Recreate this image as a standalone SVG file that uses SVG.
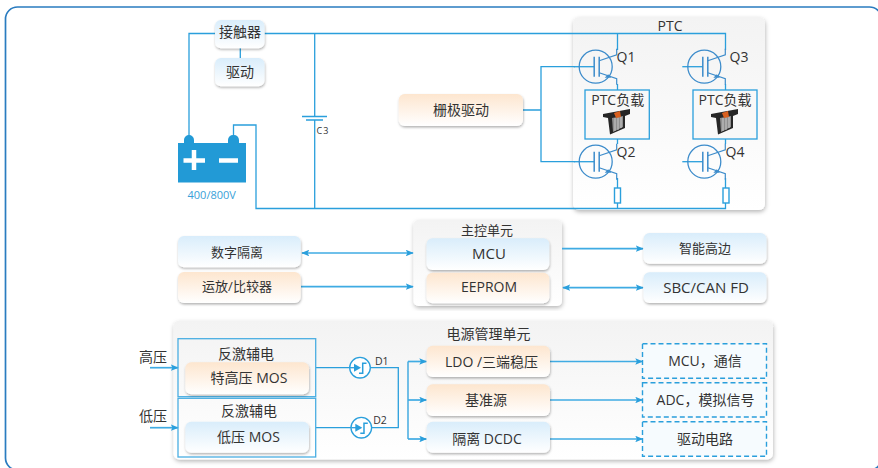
<svg xmlns="http://www.w3.org/2000/svg" width="878" height="468" viewBox="0 0 878 468">
<defs>
<linearGradient id="gb" x1="0" y1="0" x2="0" y2="1"><stop offset="0" stop-color="#d9edfb"/><stop offset="1" stop-color="#ffffff"/></linearGradient>
<linearGradient id="go" x1="0" y1="0" x2="0" y2="1"><stop offset="0" stop-color="#fde6cf"/><stop offset="1" stop-color="#ffffff"/></linearGradient>
<linearGradient id="gp" x1="0" y1="0" x2="0" y2="1"><stop offset="0" stop-color="#f3f3f3"/><stop offset="1" stop-color="#ffffff"/></linearGradient>
<filter id="sh" x="-10%" y="-15%" width="120%" height="135%"><feDropShadow dx="0.5" dy="1.5" stdDeviation="1.1" flood-color="#000" flood-opacity="0.3"/></filter>
<filter id="shb" x="-5%" y="-5%" width="110%" height="110%"><feDropShadow dx="0.5" dy="2" stdDeviation="2.2" flood-color="#000" flood-opacity="0.28"/></filter>
<marker id="ar" viewBox="0 0 10 10" refX="9" refY="5" markerWidth="8" markerHeight="6.500" markerUnits="userSpaceOnUse" orient="auto-start-reverse" preserveAspectRatio="none"><path d="M0 0L10 5L0 10L2 5Z" fill="#2a9fdc"/></marker>
<g id="igbt">
<path d="M-22 0H-1.500" fill="none" stroke="#2a9fdc" stroke-width="1.300"/>
<circle cx="0" cy="0" r="16.500" fill="none" stroke="#3d8ccb" stroke-width="1.300"/>
<path d="M-1.500 -10V10M3.500 -10V10" fill="none" stroke="#3d8ccb" stroke-width="1.500"/>
<path d="M3.500 -6L21 -12V-18M3.500 6L21 12V18" fill="none" stroke="#3d8ccb" stroke-width="1.200"/>
<path d="M12.500 7.500L9 11L15.500 11Z" fill="#3d8ccb"/>
</g>
<g id="diode">
<circle cx="0" cy="0" r="10.300" fill="#fff" stroke="#2a9fdc" stroke-width="1.300"/>
<path d="M-6 -4L1 0L-6 4Z" fill="#2a9fdc"/><path d="M-10 0H-4" stroke="#2a9fdc" stroke-width="1.300"/>
<path d="M-1 5.500H2.700V-4.500H6.500" fill="none" stroke="#2a9fdc" stroke-width="1.500"/>
</g>
<g id="heater">
<path d="M0 6L27 1L27 6L22 8L22 20L7 26.500L5 10L0 9Z" fill="#262626"/>
<path d="M9 10L20 8L20 19L10 24Z" fill="#8f8f8f"/>
<path d="M12 10V23M15 9.500V22M18 9V20" stroke="#d8d8d8" stroke-width="0.800"/>
<path d="M11 5L17 3L18 9L13 10Z" fill="#d9601f"/>
</g>
</defs>
<style>
text{font-family:"Open Sans","Noto Sans CJK SC",sans-serif;fill:#333;text-anchor:middle}
.t{font-size:14px}.m{font-size:13px}.s{font-size:10.500px}.l{font-size:15px}
.box{stroke:none;filter:url(#sh)}
.blue{fill:url(#gb)}.or{fill:url(#go)}
.panel{fill:url(#gp);filter:url(#shb)}
.wire{fill:none;stroke:#2a9fdc;stroke-width:1.300}
.arrow{fill:none;stroke:#3fabe3;stroke-width:1.700;marker-end:url(#ar)}
.both{marker-start:url(#ar)}
.load{fill:#f8f8f8;stroke:#2a9fdc;stroke-width:1.300}
.dash{fill:#f6fbfe;stroke:#2a9fdc;stroke-width:1.400;stroke-dasharray:5 3}
.fb{fill:none;stroke:#4aaee2;stroke-width:1.300}
.res{fill:#fff;stroke:#2a9fdc;stroke-width:1.400}
</style>
<rect width="878" height="468" fill="#fff"/>
<rect id="outer" x="5.500" y="7" width="876" height="463" rx="12" fill="#fff" stroke="#2a7cc0" stroke-width="1.700"/>

<g id="ptc"><rect class="panel" x="573" y="17" width="192" height="193" rx="6"/><text class="t" x="670" y="31">PTC</text></g>
<g id="controller"><rect class="panel" x="413.500" y="220" width="148.500" height="86" rx="5"/><text class="m" x="487" y="235">主控单元</text></g>
<g id="power"><rect class="panel" x="173.500" y="320.500" width="599.500" height="139" rx="6"/><text class="t" x="488.500" y="339">电源管理单元</text></g>

<g id="connectors">
<path class="wire" d="M215 33.500H189V136M264.500 33.500H725.500V50M240.300 48V58M314.700 33.500V116.500M314.700 120V208.500M233.500 135V125H256V208.500H725.500V190M617.500 33.500V50M617.500 84V90M617.500 139V144M617.500 178V188M617.500 203V208.500M725.500 84V90M725.500 139V144M725.500 178V188M725.500 203V208.500"/>
<path class="wire" d="M523 110H541V66.700H575M541 110V161.700H575"/>
<path class="wire" d="M302 116.500H327M306 120H323"/>
<path class="arrow both" d="M302 253H413"/>
<path class="arrow" d="M301 286.700H413"/>
<path class="arrow" d="M562 248.700H643"/>
<path class="arrow both" d="M563 287.700H643"/>
<path class="arrow" d="M150 367.700H178"/>
<path class="arrow" d="M150 427.700H178"/>
<path class="wire" d="M316 367.700H398.300V427.700H316M408 361.500V439"/>
<path class="arrow" d="M408 361.500H426.500"/>
<path class="arrow" d="M408 400H426.500"/>
<path class="arrow" d="M408 439H426.500"/>
<path class="arrow" d="M550 361.500H642.500"/>
<path class="arrow" d="M550 400H642.500"/>
<path class="arrow" d="M550 439H642.500"/>
</g>

<g id="contactor"><rect class="box blue" x="215" y="20" width="49.500" height="28.300" rx="6"/><text class="t" x="240" y="37">接触器</text></g>
<g id="drive"><rect class="box blue" x="215" y="58" width="49.500" height="28.300" rx="6"/><text class="t" x="240" y="77">驱动</text></g>
<g id="battery">
<path fill="#229ad6" d="M184 143V140a5 5 0 0 1 5-5a5 5 0 0 1 5 5v3H228V140a5 5 0 0 1 5.500-5a5 5 0 0 1 5.500 5v3h7V182.500H178V143Z"/>
<path d="M183.500 160.500H205M194 150V170M219 160.500H238" stroke="#fff" stroke-width="4.500" fill="none"/>
<text class="s" x="211.700" y="199" style="font-size:11px;fill:#3a9fd8">400/800V</text>
</g>
<g id="c3"><text x="323" y="134" style="font-size:9px;letter-spacing:1px">C3</text></g>
<g id="gate"><rect class="box or" x="398.700" y="94" width="124.300" height="32" rx="6"/><text class="t" x="461" y="115">栅极驱动</text></g>

<g id="q1"><use href="#igbt" x="595.700" y="66.700"/><text class="t" x="626" y="62">Q1</text></g>
<g id="q3"><use href="#igbt" x="704.300" y="66.700"/><text class="t" x="739" y="62">Q3</text></g>
<g id="q2"><use href="#igbt" x="595.700" y="161.700"/><text class="t" x="626" y="157">Q2</text></g>
<g id="q4"><use href="#igbt" x="704.300" y="161.700"/><text class="t" x="735" y="157">Q4</text></g>
<g id="load1"><rect class="load" x="585" y="90" width="64.300" height="49"/><text class="t" x="617.700" y="105">PTC负载</text><use href="#heater" x="603" y="108"/></g>
<g id="load2"><rect class="load" x="693" y="90" width="64" height="49"/><text class="t" x="725" y="105">PTC负载</text><use href="#heater" x="711" y="108"/></g>
<g id="r1"><rect class="res" x="614.500" y="188" width="6" height="15"/></g>
<g id="r2"><rect class="res" x="723" y="188" width="6" height="15"/></g>

<g id="iso"><rect class="box blue" x="178" y="236" width="122.700" height="31.300" rx="6"/><text class="m" x="237" y="257">数字隔离</text></g>
<g id="opamp"><rect class="box or" x="178" y="272" width="122.700" height="31" rx="6"/><text class="m" x="237" y="291">运放/比较器</text></g>
<g id="mcu"><rect class="box blue" x="426.500" y="238.300" width="122.800" height="31.700" rx="6"/><text class="l" x="489" y="259">MCU</text></g>
<g id="eeprom"><rect class="box or" x="426.500" y="272.700" width="122.800" height="30.600" rx="6"/><text class="t" x="489" y="292">EEPROM</text></g>
<g id="edge"><rect class="box blue" x="643.500" y="233" width="123" height="30.700" rx="6"/><text class="m" x="705" y="253">智能高边</text></g>
<g id="sbc"><rect class="box blue" x="643.500" y="272.300" width="123" height="30.700" rx="6"/><text class="l" x="706" y="293">SBC/CAN FD</text></g>

<text class="t" x="153" y="362">高压</text>
<text class="t" x="153" y="421">低压</text>
<g id="fly1"><rect class="fb" x="178" y="338.700" width="137.700" height="58"/><text class="t" x="246" y="359">反激辅电</text><rect class="box or" x="185.300" y="362.300" width="123.700" height="32" rx="6"/><text class="t" x="249" y="383">特高压 MOS</text></g>
<g id="fly2"><rect class="fb" x="178" y="398.300" width="137.700" height="58.700"/><text class="t" x="249" y="416">反激辅电</text><rect class="box blue" x="185.300" y="421.700" width="123.700" height="31" rx="6"/><text class="t" x="248.500" y="442">低压 MOS</text></g>
<g id="d1"><use href="#diode" x="360" y="367.700"/><text class="s" x="381.700" y="365">D1</text></g>
<g id="d2"><use href="#diode" x="361.300" y="427.700"/><text class="s" x="380" y="424">D2</text></g>
<g id="ldo"><rect class="box or" x="426.700" y="345.700" width="123.300" height="31.300" rx="6"/><text class="t" x="491.500" y="367">LDO /三端稳压</text></g>
<g id="ref"><rect class="box or" x="426.700" y="384.300" width="123.300" height="31.700" rx="6"/><text class="t" x="486" y="405">基准源</text></g>
<g id="dcdc"><rect class="box blue" x="426.700" y="421.700" width="123.300" height="31" rx="6"/><text class="t" x="487" y="444">隔离 DCDC</text></g>
<g id="o1"><rect class="dash" x="642.500" y="343.700" width="124" height="34.600"/><text class="t" x="705" y="366">MCU，通信</text></g>
<g id="o2"><rect class="dash" x="642.500" y="382.700" width="124" height="34.300"/><text class="t" x="705.500" y="405">ADC，模拟信号</text></g>
<g id="o3"><rect class="dash" x="642.500" y="421.700" width="124" height="34.600"/><text class="t" x="705" y="444">驱动电路</text></g>
</svg>
